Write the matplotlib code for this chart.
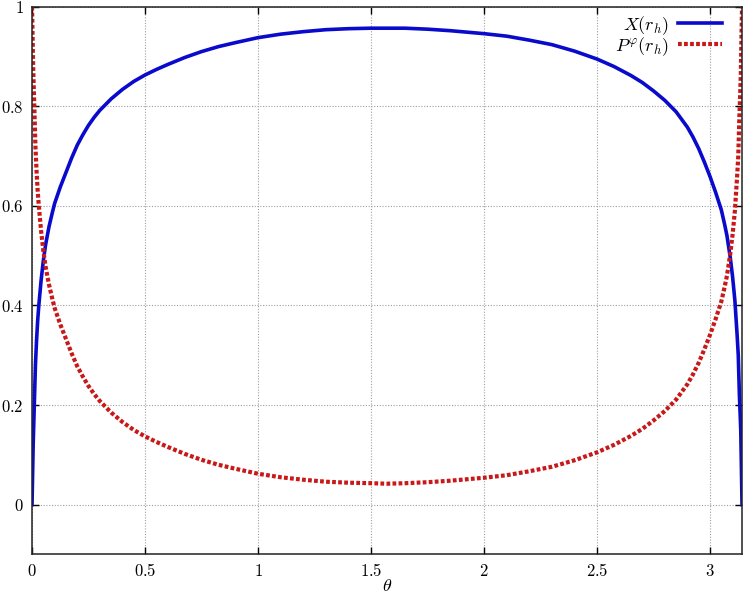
import numpy as np
import matplotlib
matplotlib.use("Agg")
import matplotlib.pyplot as plt
from matplotlib.ticker import FuncFormatter

# values
theta = [0.000, 0.005, 0.010, 0.015, 0.020, 0.025, 0.030, 0.040, 0.050, 0.060,
         0.075, 0.090, 0.100, 0.125, 0.150, 0.175, 0.200, 0.225, 0.250, 0.275,
         0.300, 0.350, 0.400, 0.450, 0.500, 0.550, 0.600, 0.675, 0.750, 0.825,
         0.900, 1.000, 1.100, 1.200, 1.300, 1.400, 1.500, 1.571, 1.650, 1.750,
         1.850, 2.000, 2.100, 2.200, 2.300, 2.400, 2.500, 2.575, 2.650, 2.700,
         2.750, 2.800, 2.850, 2.900, 2.925, 2.950, 2.975, 3.000, 3.025, 3.050,
         3.065, 3.075, 3.090, 3.100, 3.110, 3.120, 3.125, 3.130, 3.136, 3.1416]

x_rh = [0.000, 0.120, 0.200, 0.280, 0.330, 0.370, 0.400, 0.450, 0.490, 0.522,
        0.558, 0.587, 0.605, 0.638, 0.667, 0.696, 0.722, 0.743, 0.762, 0.778,
        0.792, 0.815, 0.834, 0.850, 0.863, 0.874, 0.884, 0.898, 0.910, 0.920,
        0.928, 0.938, 0.945, 0.950, 0.954, 0.956, 0.957, 0.957, 0.957, 0.955,
        0.952, 0.946, 0.941, 0.933, 0.924, 0.911, 0.895, 0.880, 0.862, 0.848,
        0.831, 0.812, 0.789, 0.758, 0.738, 0.715, 0.688, 0.659, 0.627, 0.592,
        0.562, 0.540, 0.495, 0.457, 0.410, 0.340, 0.300, 0.220, 0.150, 0.000]

p_rh = [1.000, 0.880, 0.800, 0.720, 0.670, 0.630, 0.600, 0.550, 0.510, 0.478,
        0.442, 0.413, 0.395, 0.362, 0.333, 0.304, 0.278, 0.257, 0.238, 0.222,
        0.208, 0.185, 0.166, 0.150, 0.137, 0.126, 0.116, 0.102, 0.090, 0.080,
        0.072, 0.062, 0.055, 0.050, 0.046, 0.044, 0.043, 0.042, 0.043, 0.045,
        0.048, 0.054, 0.059, 0.067, 0.076, 0.089, 0.105, 0.120, 0.138, 0.152,
        0.169, 0.188, 0.211, 0.242, 0.262, 0.285, 0.312, 0.341, 0.373, 0.408,
        0.438, 0.460, 0.505, 0.543, 0.590, 0.660, 0.700, 0.780, 0.860, 1.000]

x_ticks = [0, 0.5, 1, 1.5, 2, 2.5, 3]
y_ticks = [0, 0.2, 0.4, 0.6, 0.8, 1]

plt.rcParams["mathtext.fontset"] = "cm"
plt.rcParams["font.family"] = "DejaVu Serif"

fig = plt.figure(figsize=(7.45, 6.0), dpi=100)
ax = fig.add_axes([0.043, 0.076, 0.953, 0.9127])

ax.plot(theta, x_rh, color="#0a0acc", lw=2.6, label=r"$X(r_h)$")
ax.plot(theta, p_rh, color="#c81818", lw=3.0, linestyle=(0, (0.9, 0.55)),
        label=r"$P^{\varphi}(r_h)$")

ax.set_xlim(0, np.pi)
ax.set_ylim(-0.1, 1.0)
ax.set_xticks(x_ticks)
ax.set_yticks(y_ticks)
fmt = FuncFormatter(lambda v, pos: "$%g$" % v)
ax.xaxis.set_major_formatter(fmt)
ax.yaxis.set_major_formatter(fmt)
ax.tick_params(direction="in", top=True, right=True, length=5, width=1,
               labelsize=12)
ax.tick_params(axis="x", pad=6)
ax.tick_params(axis="y", pad=6)
ax.grid(True, color="#a0a0a0", linestyle=(0, (1, 1.5)), lw=0.8)
for s in ax.spines.values():
    s.set_linewidth(1.1)
    s.set_color("#222222")

ax.set_xlabel(r"$\theta$", fontsize=13, labelpad=-2)

ax.legend(loc="upper right", bbox_to_anchor=(0.99, 1.01), frameon=False,
          markerfirst=False, fontsize=13, handlelength=2.45, handletextpad=0.5,
          labelspacing=-0.1, borderpad=0.2)

fig.savefig("out.png", dpi=100)
